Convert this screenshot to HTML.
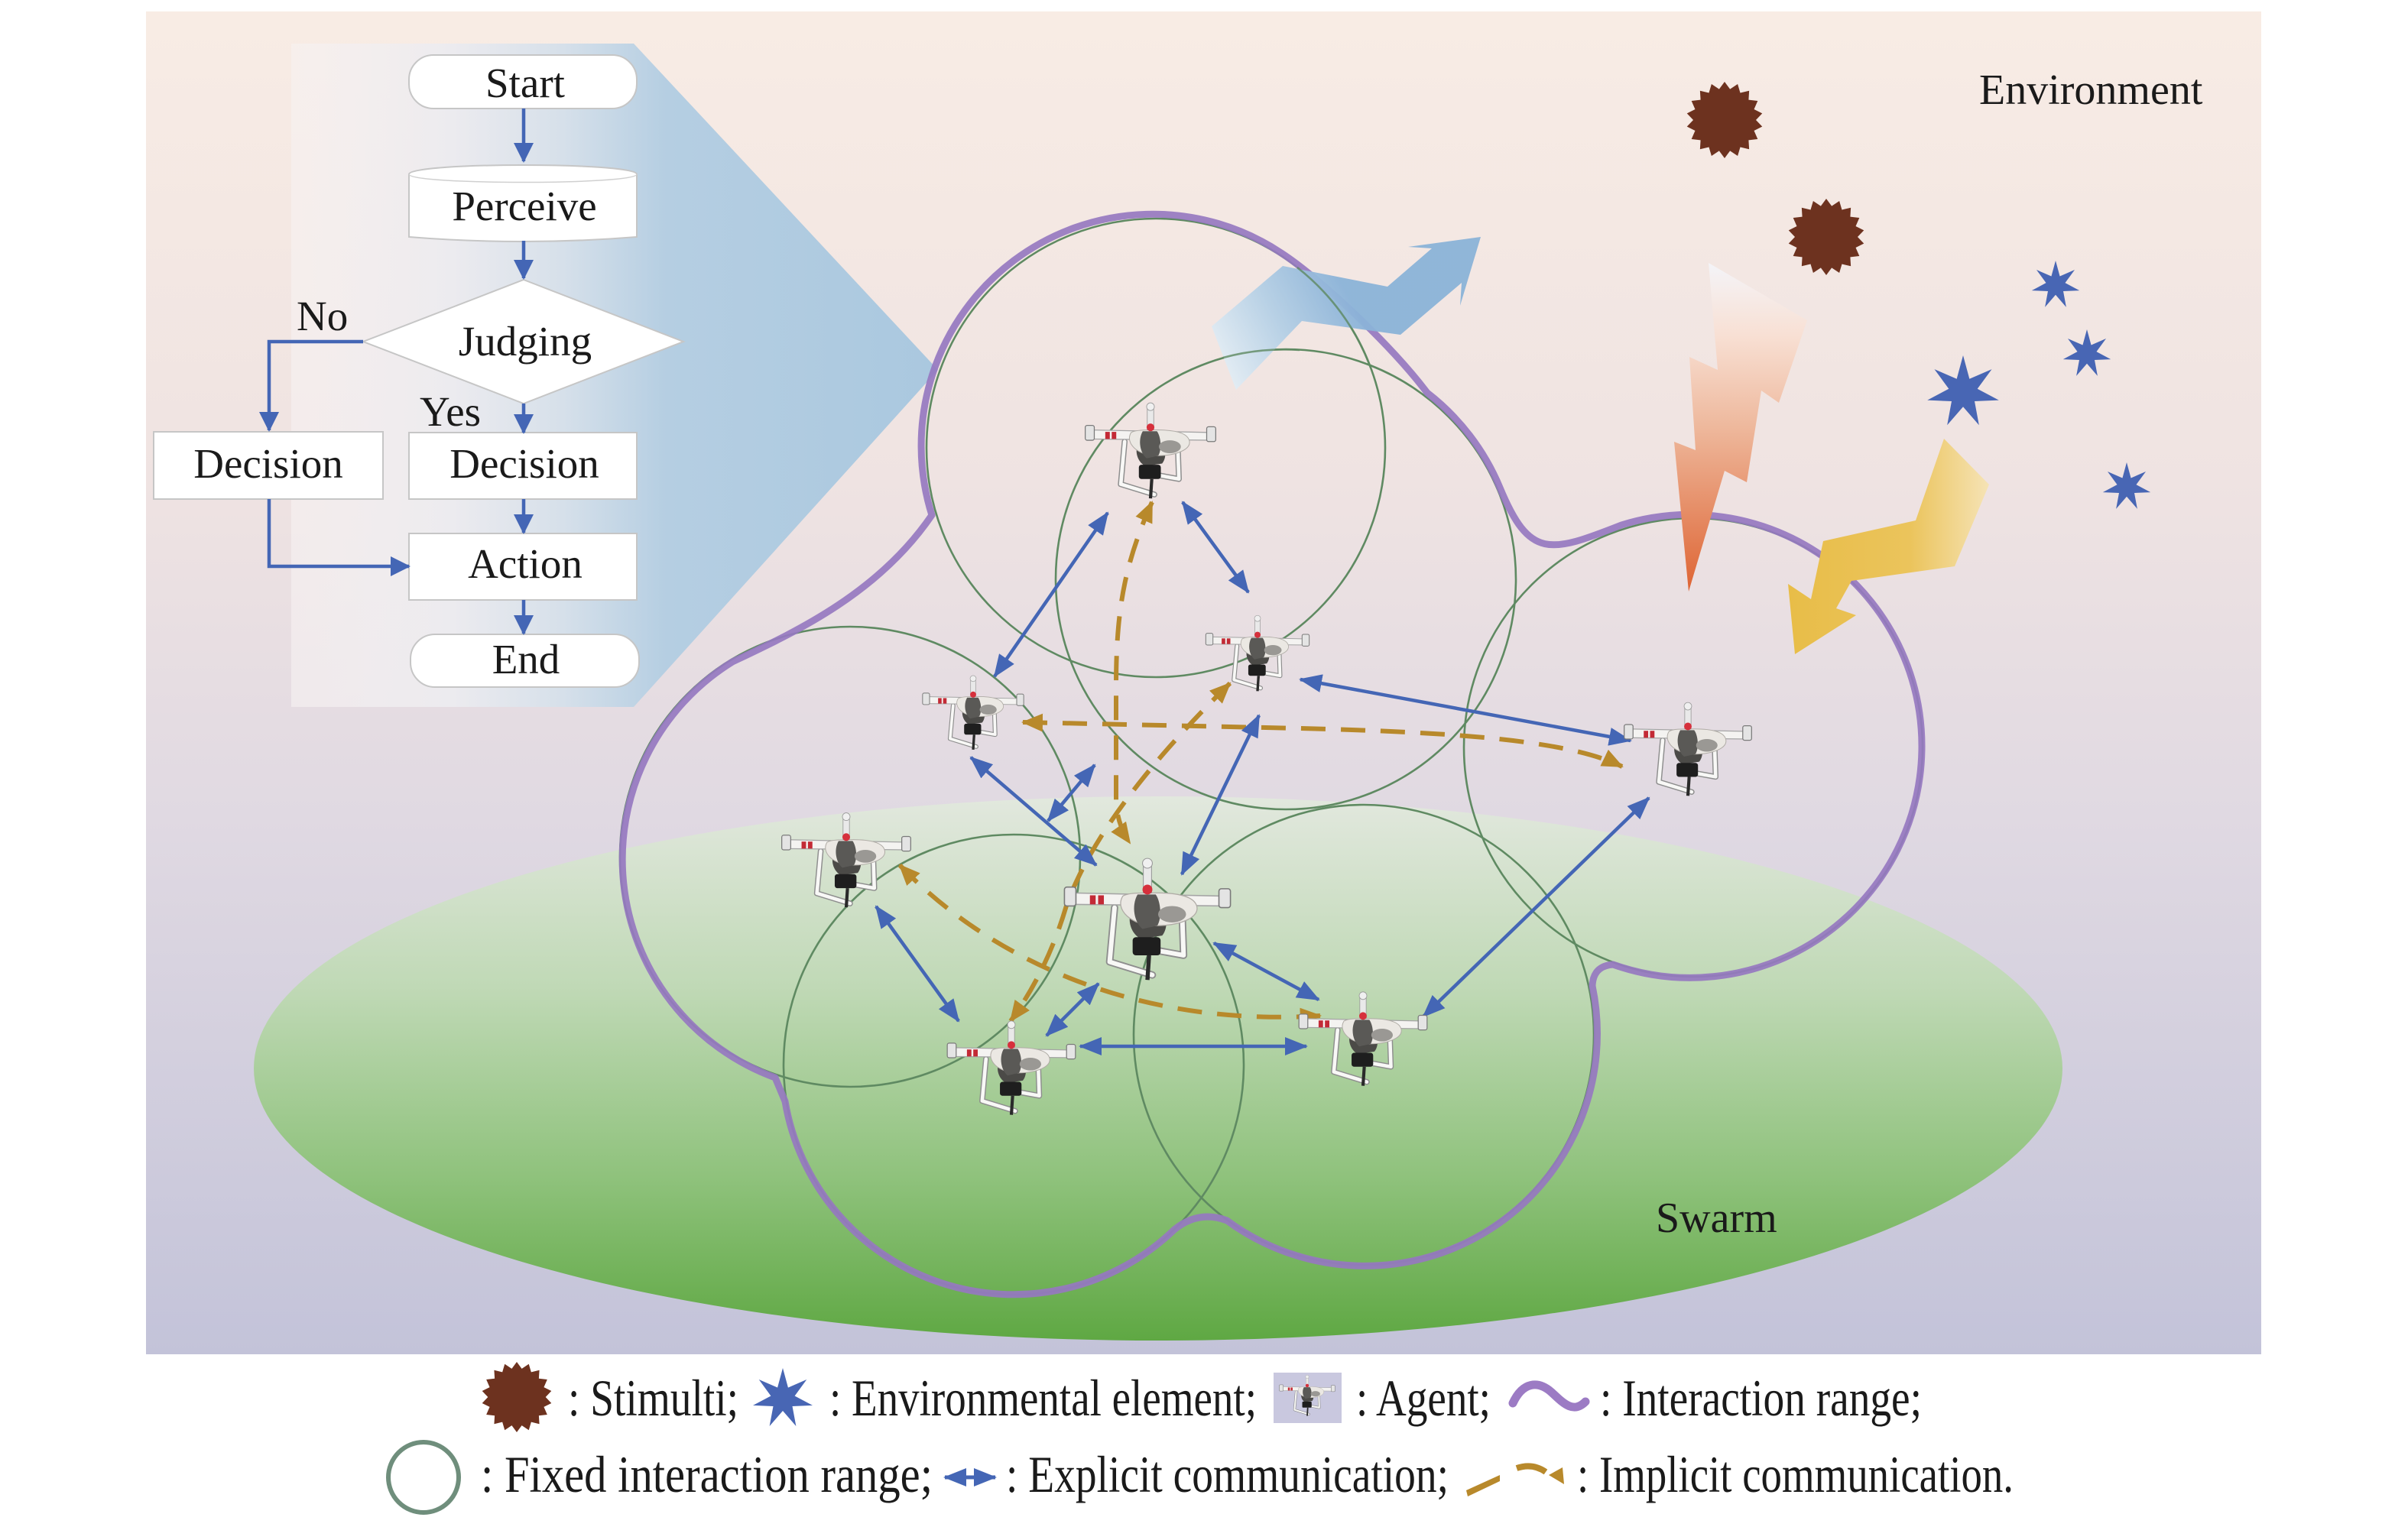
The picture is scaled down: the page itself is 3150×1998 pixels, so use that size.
<!DOCTYPE html>
<html><head><meta charset="utf-8"><style>
html,body{margin:0;padding:0;background:#fff;}
svg{display:block;}
text{font-family:"Liberation Serif","Times New Roman",serif;fill:#1a1a1a;}
</style></head><body>
<svg width="3150" height="1998" viewBox="0 0 3150 1998" xmlns="http://www.w3.org/2000/svg">
<defs>
<linearGradient id="bg" x1="0" y1="15" x2="0" y2="1772" gradientUnits="userSpaceOnUse">
<stop offset="0" stop-color="#f8ece4"/><stop offset="0.35" stop-color="#efe3e2"/><stop offset="0.6" stop-color="#e0d9e2"/><stop offset="1" stop-color="#c3c3d9"/>
</linearGradient>
<linearGradient id="gr" x1="0" y1="1042" x2="0" y2="1754" gradientUnits="userSpaceOnUse">
<stop offset="0" stop-color="#e2e8de"/><stop offset="0.35" stop-color="#c0d9b6"/><stop offset="0.7" stop-color="#8fc27c"/><stop offset="1" stop-color="#5fa843"/>
</linearGradient>
<linearGradient id="fc" x1="381" y1="0" x2="1227" y2="0" gradientUnits="userSpaceOnUse">
<stop offset="0" stop-color="#f7f2f2" stop-opacity="0.6"/><stop offset="0.25" stop-color="#ecebef"/><stop offset="0.42" stop-color="#d6e0ea"/><stop offset="0.58" stop-color="#b5cee2"/><stop offset="1" stop-color="#aac8df"/>
</linearGradient>
<linearGradient id="ba" x1="1590" y1="470" x2="1760" y2="380" gradientUnits="userSpaceOnUse">
<stop offset="0" stop-color="#e4eef5"/><stop offset="0.5" stop-color="#b4cfe5"/><stop offset="1" stop-color="#8bb3d8"/>
</linearGradient>
<linearGradient id="lt" x1="0" y1="344" x2="0" y2="774" gradientUnits="userSpaceOnUse">
<stop offset="0" stop-color="#f4f4f8"/><stop offset="0.22" stop-color="#f8e0d4"/><stop offset="0.5" stop-color="#eeb89c"/><stop offset="1" stop-color="#de6433"/>
</linearGradient>
<linearGradient id="ya" x1="2340" y1="0" x2="2605" y2="0" gradientUnits="userSpaceOnUse">
<stop offset="0" stop-color="#e8bd48"/><stop offset="0.6" stop-color="#ebc45c"/><stop offset="1" stop-color="#f6e4b8"/>
</linearGradient>
<marker id="bh" markerUnits="userSpaceOnUse" markerWidth="30" markerHeight="24" refX="28" refY="12" orient="auto-start-reverse"><path d="M0,0 L30,12 L0,24 Z" fill="#4466b5"/></marker>
<marker id="gh" markerUnits="userSpaceOnUse" markerWidth="28" markerHeight="24" refX="26" refY="12" orient="auto-start-reverse"><path d="M0,0 L28,12 L0,24 Z" fill="#b8892b"/></marker>
<marker id="fh" markerUnits="userSpaceOnUse" markerWidth="26" markerHeight="26" refX="24" refY="13" orient="auto"><path d="M0,0 L26,13 L0,26 Z" fill="#4466b5"/></marker>
<polygon id="star7" points="0,-1 0.1736,-0.3604 0.7818,-0.6235 0.39,-0.089 0.9749,0.2225 0.3127,0.2494 0.4339,0.901 0,0.4 -0.4339,0.901 -0.3127,0.2494 -0.9749,0.2225 -0.39,-0.089 -0.7818,-0.6235 -0.1736,-0.3604" fill="#4866b4"/>
<polygon id="burst" points="1,0 .8075,.1424 .9397,.342 .7101,.41 .766,.6428 .5271,.6282 .5,.866 .2805,.7705 .1736,.9848 0,.82 -.1736,.9848 -.2805,.7705 -.5,.866 -.5271,.6282 -.766,.6428 -.7101,.41 -.9397,.342 -.8075,.1424 -1,0 -.8075,-.1424 -.9397,-.342 -.7101,-.41 -.766,-.6428 -.5271,-.6282 -.5,-.866 -.2805,-.7705 -.1736,-.9848 0,-.82 .1736,-.9848 .2805,-.7705 .5,-.866 .5271,-.6282 .766,-.6428 .7101,-.41 .9397,-.342 .8075,-.1424" fill="#6d321f"/>
<g id="drone">
<path d="M-40,8 L-46,74 L6,90 M42,8 L44,66 L0,58" fill="none" stroke="#8e8e8e" stroke-width="9" stroke-linejoin="round" stroke-linecap="round"/>
<path d="M-40,8 L-46,74 L6,90 M42,8 L44,66 L0,58" fill="none" stroke="#f8f8f6" stroke-width="5.5" stroke-linejoin="round" stroke-linecap="round"/>
<path d="M-18,10 C-26,22 -20,40 -8,46 L18,42 C26,32 24,14 14,8 Z" fill="#4b4a47"/>
<path d="M-96,-10 L96,-6 L96,6 L-96,4 Z" fill="#f4f3f1" stroke="#a5a5a5" stroke-width="1.5"/>
<rect x="-101" y="-17" width="14" height="23" rx="3" fill="#e4e4e4" stroke="#7a7a7a" stroke-width="1.5"/>
<rect x="87" y="-15" width="14" height="23" rx="3" fill="#e4e4e4" stroke="#7a7a7a" stroke-width="1.5"/>
<rect x="-70" y="-7" width="7" height="11" fill="#c32a36"/>
<rect x="-60" y="-7" width="7" height="11" fill="#c32a36"/>
<path d="M-30,-6 C-40,10 -20,30 10,30 C40,30 64,20 60,6 C56,-8 30,-10 10,-10 C-10,-10 -24,-10 -30,-6 Z" fill="#ebe8e3" stroke="#b0aca6" stroke-width="1.2"/>
<path d="M-12,-8 C-20,6 -16,26 -6,34 L12,30 C18,20 16,0 10,-8 Z" fill="#5a5956"/>
<ellipse cx="30" cy="16" rx="17" ry="10" fill="#9a9894"/>
<rect x="-5" y="-46" width="10" height="36" fill="#e9e9e9" stroke="#999" stroke-width="1"/>
<circle cx="0" cy="-46" r="6" fill="#f0f0f0" stroke="#999" stroke-width="1"/>
<circle cx="0" cy="-14" r="6" fill="#d6303c"/>
<rect x="-18" y="44" width="34" height="22" rx="4" fill="#1e1e1e"/>
<path d="M2,66 L0,96" stroke="#2a2a2a" stroke-width="5"/>
</g>
</defs>

<!-- background panel -->
<rect x="191" y="15" width="2767" height="1757" fill="url(#bg)"/>
<!-- swarm ellipse -->
<ellipse cx="1515" cy="1398" rx="1183" ry="356" fill="url(#gr)"/>

<!-- flowchart panel + blue wedge -->
<polygon points="381,57 829,57 1227,484 829,925 381,925" fill="url(#fc)"/>

<!-- fixed interaction circles -->
<g fill="none" stroke="#5f8a62" stroke-width="2.6">
<circle cx="1512" cy="586" r="300"/>
<circle cx="1682" cy="758" r="301"/>
<circle cx="2215" cy="978" r="300"/>
<circle cx="1112" cy="1121" r="301"/>
<circle cx="1326" cy="1393" r="301"/>
<circle cx="1784" cy="1354" r="301"/>
</g>

<!-- purple interaction range -->
<path d="M1219,674 A303,303 0 0 1 1676,331 C1727,364 1820,452 1867,514 A304,304 0 0 1 1962,638 C2001,732 2027,724 2121,687 A303,303 0 1 1 2110,1262 Q2084,1264 2083,1290 A304,304 0 0 1 1605,1597 Q1568,1583 1536,1609 A303,303 0 0 1 1027,1441 L1014,1410 A304,304 0 0 1 958,866 C1038,828 1148,778 1219,674 Z" fill="none" stroke="#9678c0" stroke-opacity="0.92" stroke-width="9" stroke-linejoin="round"/>

<!-- big blue arrow -->
<polygon points="1585,427 1678,348 1815,375 1873,325 1842,323 1937,310 1910,400 1912,370 1832,438 1703,420 1617,510" fill="url(#ba)" opacity="0.95"/>
<g fill="none" stroke="#5f8a62" stroke-width="2.6" opacity="0.8">
<path d="M1697,350 A300,300 0 0 1 1793,481"/>
<path d="M1600,468 A301,301 0 0 1 1700,458"/>
</g>

<!-- lightning -->
<polygon points="2235,344 2364,419 2327,527 2304,511 2285,631 2256,616 2209,774 2190,578 2218,589 2210,467 2247,484" fill="url(#lt)"/>
<!-- yellow arrow -->
<polygon points="2543,574 2602,634 2557,741 2422,760 2402,796 2428,805 2348,856 2339,764 2369,784 2385,708 2506,681" fill="url(#ya)"/>

<!-- implicit communication -->
<g fill="none" stroke="#b8892b" stroke-width="6" stroke-dasharray="32 20" marker-start="url(#gh)" marker-end="url(#gh)">
<path d="M1507,657 C1470,740 1460,800 1460,900 L1460,1050 Q1462,1080 1478,1103"/>
<path d="M1338,945 L1700,953 C1900,958 2050,968 2122,1003"/>
<path d="M1609,894 Q1440,1060 1395,1185 Q1370,1270 1322,1336"/>
<path d="M1177,1132 C1290,1250 1480,1345 1727,1329"/>
</g>

<!-- explicit communication -->
<g stroke="#4466b5" stroke-width="4.5" marker-start="url(#bh)" marker-end="url(#bh)">
<line x1="1449" y1="671" x2="1301" y2="885"/>
<line x1="1547" y1="657" x2="1633" y2="775"/>
<line x1="1701" y1="889" x2="2133" y2="969"/>
<line x1="1270" y1="991" x2="1434" y2="1132"/>
<line x1="1371" y1="1074" x2="1432" y2="1001"/>
<line x1="1647" y1="936" x2="1546" y2="1144"/>
<line x1="1146" y1="1186" x2="1254" y2="1336"/>
<line x1="1369" y1="1355" x2="1437" y2="1287"/>
<line x1="1413" y1="1369" x2="1709" y2="1369"/>
<line x1="1588" y1="1234" x2="1725" y2="1308"/>
<line x1="1862" y1="1330" x2="2157" y2="1044"/>
</g>

<!-- drones -->
<use href="#drone" transform="translate(1505,571) scale(0.845)"/>
<use href="#drone" transform="translate(1645,840) scale(0.67)"/>
<use href="#drone" transform="translate(1273,918) scale(0.655)"/>
<use href="#drone" transform="translate(2208,962) scale(0.825)"/>
<use href="#drone" transform="translate(1107,1107) scale(0.835)"/>
<use href="#drone" transform="translate(1501,1179) scale(1.075)"/>
<use href="#drone" transform="translate(1323,1379) scale(0.83)"/>
<use href="#drone" transform="translate(1783,1341) scale(0.83)"/>

<!-- stimuli -->
<use href="#burst" transform="translate(2256,157) rotate(10) scale(50)"/>
<use href="#burst" transform="translate(2389,310) rotate(10) scale(50)"/>
<!-- environmental elements -->
<use href="#star7" transform="translate(2568,513) scale(48)"/>
<use href="#star7" transform="translate(2689,373) scale(32)"/>
<use href="#star7" transform="translate(2730,463) scale(32)"/>
<use href="#star7" transform="translate(2782,637) scale(32)"/>

<text x="2589" y="136" font-size="56">Environment</text>
<text x="2166" y="1612" font-size="56">Swarm</text>

<!-- flowchart -->
<g fill="#fff" stroke="#c6c6c6" stroke-width="2">
<rect x="535" y="72" width="298" height="70" rx="32"/>
<path d="M535,228 C535,212 833,212 833,228 L833,310 Q684,322 535,310 Z"/>
<polygon points="685,366 894,447 685,528 475,447"/>
<rect x="201" y="565" width="300" height="88"/>
<rect x="535" y="566" width="298" height="87"/>
<rect x="535" y="698" width="298" height="87"/>
<rect x="537" y="830" width="299" height="69" rx="32"/>
</g>
<path d="M535,228 C535,242 833,242 833,228" fill="none" stroke="#d0d0d0" stroke-width="1.5"/>
<g stroke="#4466b5" stroke-width="4.5" fill="none" marker-end="url(#fh)">
<line x1="685" y1="142" x2="685" y2="211"/>
<line x1="685" y1="315" x2="685" y2="364"/>
<line x1="685" y1="528" x2="685" y2="566"/>
<polyline points="475,447 352,447 352,563"/>
<line x1="685" y1="653" x2="685" y2="697"/>
<polyline points="352,653 352,741 535,741"/>
<line x1="685" y1="785" x2="685" y2="829"/>
</g>
<g font-size="55" text-anchor="middle">
<text x="687" y="127">Start</text>
<text x="686" y="288">Perceive</text>
<text x="687" y="465">Judging</text>
<text x="351" y="625">Decision</text>
<text x="686" y="625">Decision</text>
<text x="687" y="756">Action</text>
<text x="688" y="881">End</text>
</g>
<text x="388" y="432" font-size="55">No</text>
<text x="549" y="557" font-size="55">Yes</text>

<!-- legend -->
<use href="#burst" transform="translate(676,1828) rotate(10) scale(46)"/>
<text transform="translate(743,1852) scale(1,1.25)" font-size="54" textLength="223" lengthAdjust="spacingAndGlyphs">: Stimulti;</text>
<use href="#star7" transform="translate(1024,1830) scale(40)"/>
<text transform="translate(1085,1852) scale(1,1.25)" font-size="54" textLength="559" lengthAdjust="spacingAndGlyphs">: Environmental element;</text>
<rect x="1666" y="1796" width="89" height="66" fill="#c9c8df"/>
<use href="#drone" transform="translate(1710,1818) scale(0.36)"/>
<text transform="translate(1774,1852) scale(1,1.25)" font-size="54" textLength="176" lengthAdjust="spacingAndGlyphs">: Agent;</text>
<path d="M1979,1836 C1992,1808 2012,1806 2030,1822 C2045,1836 2058,1850 2074,1834" fill="none" stroke="#9c7bc4" stroke-width="11" stroke-linecap="round"/>
<text transform="translate(2093,1852) scale(1,1.25)" font-size="54" textLength="421" lengthAdjust="spacingAndGlyphs">: Interaction range;</text>

<circle cx="554" cy="1933" r="46" fill="none" stroke="#6f8e7c" stroke-width="6"/>
<text transform="translate(629,1952) scale(1,1.25)" font-size="54" textLength="591" lengthAdjust="spacingAndGlyphs">: Fixed interaction range;</text>
<line x1="1236" y1="1933" x2="1302" y2="1933" stroke="#4466b5" stroke-width="5" marker-start="url(#bh)" marker-end="url(#bh)"/>
<text transform="translate(1316,1952) scale(1,1.25)" font-size="54" textLength="579" lengthAdjust="spacingAndGlyphs">: Explicit communication;</text>
<path d="M1918,1950 L1962,1930 L1962,1938 L1920,1958 Z" fill="#b8892b"/>
<path d="M1984,1921 Q2005,1914 2022,1926" fill="none" stroke="#b8892b" stroke-width="8"/>
<polygon points="2044,1920 2046,1942 2026,1930" fill="#b8892b"/>
<text transform="translate(2063,1952) scale(1,1.25)" font-size="54" textLength="571" lengthAdjust="spacingAndGlyphs">: Implicit communication.</text>
</svg>
</body></html>
